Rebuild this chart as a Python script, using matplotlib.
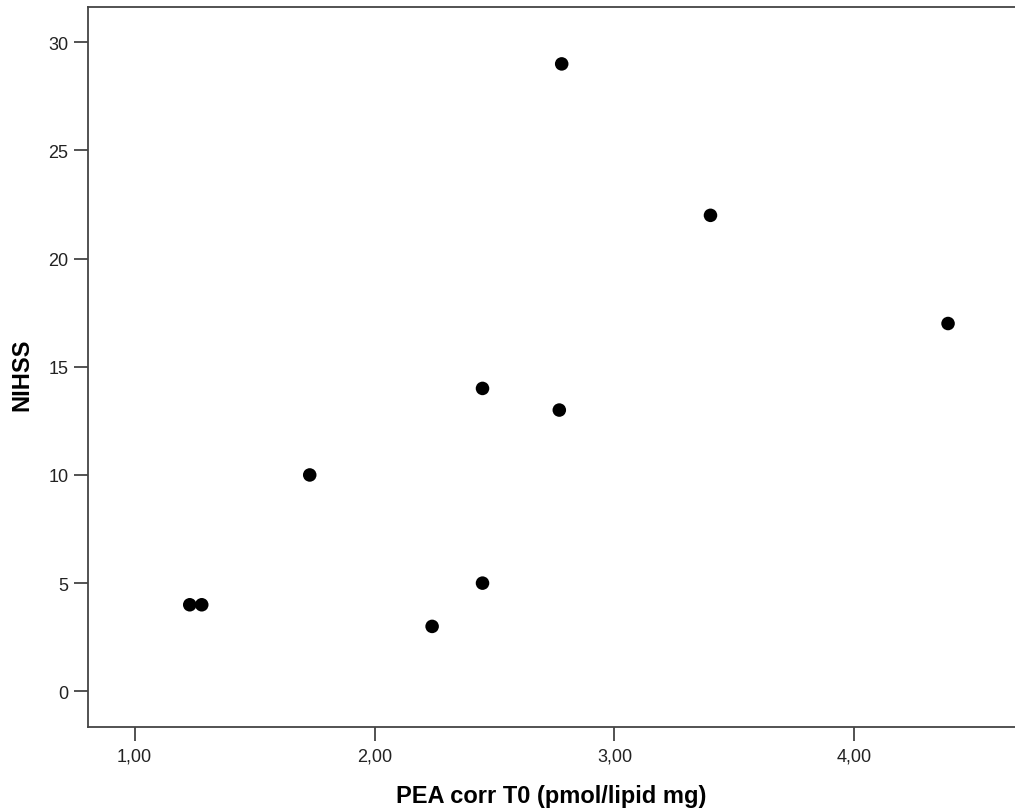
import matplotlib
matplotlib.use("Agg")
import matplotlib.pyplot as plt
from matplotlib.ticker import FuncFormatter

plt.rcParams['font.family'] = ['Liberation Sans', 'DejaVu Sans']

# Data
pea_t0 = [1.23, 1.28, 1.73, 2.24, 2.45, 2.45, 2.77, 2.78, 3.40, 4.39]
nihss = [4, 4, 10, 3, 5, 14, 13, 29, 22, 17]

x_ticks = [1.0, 2.0, 3.0, 4.0]
y_ticks = [0, 5, 10, 15, 20, 25, 30]

W, H = 1015, 812
fig = plt.figure(figsize=(W / 100, H / 100), dpi=100)
ax = fig.add_axes([88 / W, (H - 728) / H, (W - 88) / W, (728 - 8) / H])

ax.scatter(pea_t0, nihss, s=95, color='black', edgecolors='none', zorder=3)

ax.set_xlim(0.806, 4.669)
ax.set_ylim(-1.65, 31.63)
ax.set_xticks(x_ticks)
ax.set_yticks(y_ticks)
ax.xaxis.set_major_formatter(FuncFormatter(lambda v, p: f"{v:.2f}".replace('.', ',')))
ax.yaxis.set_major_formatter(FuncFormatter(lambda v, p: f"{int(v)}"))

frame_col = '#444444'
for side in ['left', 'bottom', 'top']:
    ax.spines[side].set_color(frame_col)
    ax.spines[side].set_linewidth(1.3)
ax.spines['right'].set_visible(False)

ax.tick_params(axis='both', direction='out', length=10, width=1.3, color=frame_col,
               labelsize=13, labelcolor='#222222')
ax.tick_params(axis='x', pad=5)
ax.tick_params(axis='y', pad=4)

ax.set_xlabel('PEA corr T0 (pmol/lipid mg)', fontsize=17, fontweight='bold', labelpad=14)
ax.set_ylabel('NIHSS', fontsize=17, fontweight='bold')
ax.yaxis.set_label_coords(-0.059, 0.49)

fig.savefig('out.png', dpi=100, facecolor='white')
